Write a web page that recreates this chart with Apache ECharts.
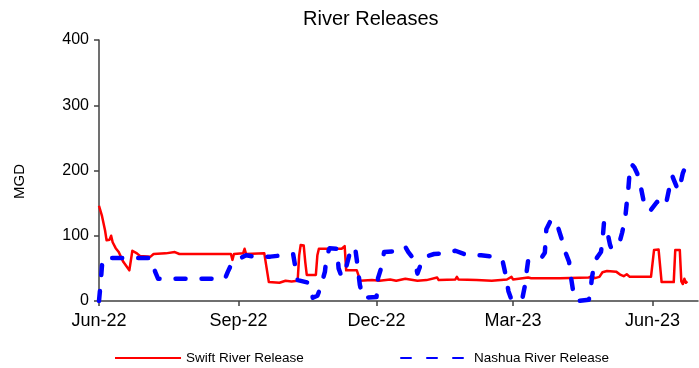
<!DOCTYPE html>
<html>
<head>
<meta charset="utf-8">
<script src="https://cdn.jsdelivr.net/npm/echarts@6/dist/echarts.min.js"></script>
<style>
html,body{margin:0;padding:0;background:#fff;}
#chart{width:699px;height:368px;}
</style>
</head>
<body>
<div id="chart"></div>
<script>
// ---- data ----
const tickDates = ['2022-06-01','2022-09-01','2022-12-01','2023-03-01','2023-06-01'];
const tickLabels = ['Jun-22','Sep-22','Dec-22','Mar-23','Jun-23'];
const yTicks = [0,100,200,300,400];

const swiftDates = ['2022-06-01','2022-06-03','2022-06-05','2022-06-06','2022-06-08','2022-06-09','2022-06-10','2022-06-12','2022-06-14','2022-06-17','2022-06-21','2022-06-23','2022-06-26','2022-06-28','2022-07-05','2022-07-07','2022-07-15','2022-07-21','2022-07-24','2022-08-27','2022-08-28','2022-08-29','2022-09-04','2022-09-05','2022-09-06','2022-09-18','2022-09-19','2022-09-21','2022-09-28','2022-10-02','2022-10-06','2022-10-10','2022-10-11','2022-10-12','2022-10-14','2022-10-15','2022-10-16','2022-10-22','2022-10-23','2022-10-24','2022-11-08','2022-11-09','2022-11-10','2022-11-11','2022-11-18','2022-11-19','2022-11-20','2022-11-28','2022-12-03','2022-12-10','2022-12-14','2022-12-20','2022-12-28','2023-01-03','2023-01-10','2023-01-11','2023-01-22','2023-01-23','2023-01-24','2023-02-05','2023-02-15','2023-02-25','2023-02-28','2023-03-01','2023-03-11','2023-03-12','2023-03-13','2023-04-01','2023-04-20','2023-04-22','2023-04-24','2023-04-27','2023-04-29','2023-05-02','2023-05-08','2023-05-11','2023-05-13','2023-05-15','2023-05-17','2023-05-31','2023-06-02','2023-06-05','2023-06-07','2023-06-15','2023-06-16','2023-06-19','2023-06-20','2023-06-21','2023-06-22','2023-06-23','2023-06-24'];
const swiftValues = [146,130,108,93,94,100,90,81,75,60,47,77,73,69,68,72,73,75,72,72,63,72,73,80,72,73,70,29,28,31,30,31,70,86,85,60,40,40,70,80,80,83,84,47,47,40,31,32,31,33,31,34,31,32,36,32,33,37,33,32,31,33,37,33,36,38,35,35,36,38,35,37,44,46,45,40,38,41,37,37,78,79,29,29,78,78,30,26,34,28,30];

const nashuaDates = ['2022-06-01','2022-06-02','2022-06-03','2022-06-04','2022-07-05','2022-07-06','2022-07-08','2022-07-10','2022-08-23','2022-08-25','2022-08-27','2022-08-31','2022-09-06','2022-09-14','2022-09-22','2022-09-30','2022-10-07','2022-10-08','2022-10-10','2022-10-17','2022-10-20','2022-10-23','2022-10-25','2022-10-28','2022-10-29','2022-10-31','2022-11-05','2022-11-06','2022-11-08','2022-11-11','2022-11-13','2022-11-15','2022-11-17','2022-11-18','2022-11-20','2022-11-22','2022-12-01','2022-12-02','2022-12-04','2022-12-06','2022-12-12','2022-12-18','2022-12-20','2022-12-22','2022-12-26','2022-12-28','2022-12-30','2023-01-01','2023-01-08','2023-01-15','2023-01-22','2023-01-30','2023-02-08','2023-02-16','2023-02-22','2023-02-24','2023-02-26','2023-02-28','2023-03-07','2023-03-09','2023-03-10','2023-03-11','2023-03-17','2023-03-20','2023-03-22','2023-03-23','2023-03-26','2023-03-28','2023-03-30','2023-04-02','2023-04-04','2023-04-07','2023-04-08','2023-04-10','2023-04-12','2023-04-20','2023-04-21','2023-04-22','2023-04-24','2023-04-28','2023-04-29','2023-04-30','2023-05-02','2023-05-04','2023-05-05','2023-05-07','2023-05-10','2023-05-12','2023-05-14','2023-05-15','2023-05-16','2023-05-17','2023-05-18','2023-05-20','2023-05-22','2023-05-24','2023-05-26','2023-05-29','2023-05-31','2023-06-04','2023-06-07','2023-06-10','2023-06-12','2023-06-14','2023-06-15','2023-06-18','2023-06-19','2023-06-21','2023-06-23','2023-06-24'];
const nashuaValues = [0,25,55,66,66,60,45,34,34,45,55,63,70,67,68,70,72,70,32,28,5,8,20,45,67,81,80,50,37,52,70,83,80,63,25,5,6,35,50,75,76,78,83,75,63,42,55,67,72,73,77,70,70,68,63,42,15,2,2,25,45,62,68,67,74,110,124,125,118,96,78,60,40,10,0,2,12,35,62,75,92,120,108,86,80,85,88,105,127,150,170,200,210,205,195,178,155,138,140,152,144,150,172,192,186,169,175,196,207,196];

const seriesNames = ['Swift River Release','Nashua River Release'];

// ---- chart ----
const ts = s => Date.UTC(+s.slice(0,4), +s.slice(5,7) - 1, +s.slice(8,10));
const tickTs = tickDates.map(ts);
const chart = echarts.init(document.getElementById('chart'), null, {renderer:'canvas'});
const FONT = 'Liberation Sans, Arial, sans-serif';
const axisColor = '#404040';

chart.setOption({
  animation: false,
  backgroundColor: '#ffffff',
  title: {
    text: 'River Releases',
    left: 303,
    top: 9,
    padding: 0,
    textStyle: {fontFamily: FONT, fontSize: 20, fontWeight: 'normal', color: '#000'}
  },
  legend: [
    {
      data: [seriesNames[0]], left: 114, top: 351, padding: 0, itemWidth: 66, itemHeight: 14, itemGap: 8,
      itemStyle: {opacity: 0},
      textStyle: {fontFamily: FONT, fontSize: 13.5, color: '#000'}
    },
    {
      data: [seriesNames[1]], left: 400, top: 351, padding: 0, itemWidth: 68, itemHeight: 14, itemGap: 7,
      itemStyle: {opacity: 0},
      textStyle: {fontFamily: FONT, fontSize: 13.5, color: '#000'}
    }
  ],
  grid: {left: 99, right: 1, top: 40, bottom: 67, containLabel: false},
  xAxis: {
    type: 'value',
    min: ts('2022-06-01'),
    max: ts('2023-07-01'),
    splitLine: {show: false},
    axisLine: {onZero: false, lineStyle: {color: axisColor, width: 1.5}},
    axisTick: {show: true, inside: false, length: 5, customValues: tickTs, lineStyle: {color: axisColor, width: 1.5}},
    axisLabel: {
      customValues: tickTs,
      fontFamily: FONT, fontSize: 18, color: '#000', margin: 11,
      formatter: v => { const i = tickTs.indexOf(v); return i >= 0 ? tickLabels[i] : ''; }
    }
  },
  yAxis: {
    type: 'value',
    min: yTicks[0], max: yTicks[yTicks.length-1], interval: 100,
    name: 'MGD', nameLocation: 'middle', nameGap: 72, nameRotate: 90,
    nameTextStyle: {fontFamily: FONT, fontSize: 15, color: '#000', padding: [0, 22, 0, 0]},
    splitLine: {show: false},
    axisLine: {show: true, lineStyle: {color: axisColor, width: 1.5}},
    axisTick: {show: true, inside: false, length: 5, lineStyle: {color: axisColor, width: 1.5}},
    axisLabel: {fontFamily: FONT, fontSize: 16, color: '#000', margin: 10}
  },
  series: [
    {
      name: seriesNames[0], type: 'line', showSymbol: false, symbol: 'none',
      data: swiftDates.map((d, i) => [ts(d), swiftValues[i]]),
      lineStyle: {color: '#FF0000', width: 2.5, join: 'round'},
      itemStyle: {color: '#FF0000'},
      z: 2
    },
    {
      name: seriesNames[1], type: 'line', showSymbol: false, symbol: 'none',
      data: nashuaDates.map((d, i) => [ts(d), nashuaValues[i]]),
      lineStyle: {color: '#0000FF', width: 4.5, type: [10, 16], cap: 'round', join: 'round'},
      itemStyle: {color: '#0000FF'},
      z: 3
    }
  ]
});
</script>
</body>
</html>
